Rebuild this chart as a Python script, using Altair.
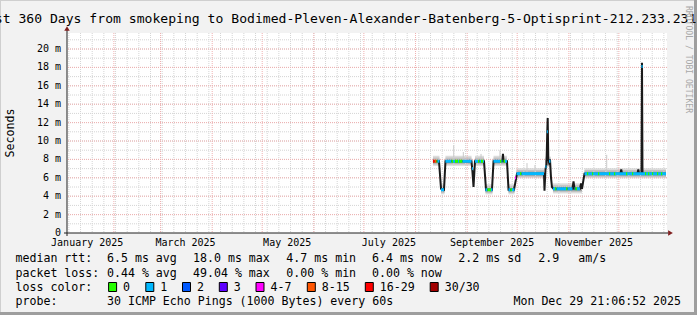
import altair as alt
import pandas as pd

MONO = "DejaVu Sans Mono"
PL, PT, PR, PB = 67, 33, 30, 82
W, H = 600, 200

# ---------------- data ----------------
TITLE = "Last 360 Days from smokeping to Bodimed-Pleven-Alexander-Batenberg-5-Optisprint-212.233.231"
Y_LABEL = "Seconds"
WATERMARK = "RRDTOOL / TOBI OETIKER"

LOSS_LABELS = ["0", "1", "2", "3", "4-7", "8-15", "16-29", "30/30"]
LOSS_COLORS = ["#26ff00", "#00b8ff", "#0059ff", "#5e00ff", "#ff00ff", "#ff5500", "#ff0000", "#a10000"]

RTT_HEAD = "median rtt:"
RTT_ITEMS = ["6.5 ms avg", "18.0 ms max", "4.7 ms min", "6.4 ms now", "2.2 ms sd", "2.9", "am/s"]
LOSS_HEAD = "packet loss:"
LOSS_ITEMS = ["0.44 % avg", "49.04 % max", "0.00 % min", "0.00 % now"]
COLOR_HEAD = "loss color:"
PROBE_HEAD = "probe:"
PROBE_TEXT = "30 ICMP Echo Pings (1000 Bytes) every 60s"
STAMP = "Mon Dec 29 21:06:52 2025"

X_LABEL_TICKS = ["2025-01-16", "2025-03-16", "2025-05-16", "2025-07-16", "2025-09-16", "2025-11-16"]
X_LABEL_TEXT = ["January 2025", "March 2025", "May 2025", "July 2025", "September 2025", "November 2025"]
Y_LABEL_TICKS = [0, 2, 4, 6, 8, 10, 12, 14, 16, 18, 20]
Y_LABEL_TEXT = ["0", "2 m", "4 m", "6 m", "8 m", "10 m", "12 m", "14 m", "16 m", "18 m", "20 m"]

# median (black) path
med_time = ["2025-08-11T11", "2025-08-15T02", "2025-08-16T07", "2025-08-18T02", "2025-08-18T23",
            "2025-09-03T14", "2025-09-04T04", "2025-09-04T19", "2025-09-05T16", "2025-09-11T02",
            "2025-09-12T07", "2025-09-15T21", "2025-09-16T19", "2025-09-22T04", "2025-09-22T11",
            "2025-09-22T19", "2025-09-24T21", "2025-09-25T19", "2025-09-29T02", "2025-09-30T21",
            "2025-10-17T02", "2025-10-17T09", "2025-10-17T23", "2025-10-18T14", "2025-10-19T01",
            "2025-10-19T07", "2025-10-19T16", "2025-10-20T02", "2025-10-20T16", "2025-10-21T07",
            "2025-10-21T21", "2025-10-22T19", "2025-11-03T04", "2025-11-03T19", "2025-11-04T09",
            "2025-11-07T16", "2025-11-08T07", "2025-11-08T21", "2025-11-10T09", "2025-12-01T23",
            "2025-12-02T10", "2025-12-02T21", "2025-12-12T04", "2025-12-12T16", "2025-12-13T02",
            "2025-12-14T14", "2025-12-14T21", "2025-12-15T04", "2025-12-29T07"]
med_ms = [7.8, 7.8, 4.8, 4.7, 7.8,
          7.8, 6.6, 5.0, 7.8, 7.8,
          4.7, 4.7, 7.8, 7.8, 8.6,
          7.8, 7.8, 4.7, 4.7, 6.45,
          6.45, 4.6, 6.9, 7.5, 11.0,
          12.5, 8.0, 7.7, 8.0, 6.0,
          5.0, 4.8, 4.8, 5.6, 4.8,
          4.8, 5.4, 4.8, 6.45, 6.45,
          6.9, 6.45, 6.45, 6.9, 6.45,
          6.45, 18.5, 6.45, 6.45]

# loss-coloured median segments
seg_start = ["2025-08-11T11", "2025-08-12T09", "2025-08-13T14", "2025-08-14T04", "2025-08-16T07",
             "2025-08-18T23", "2025-08-22T14", "2025-08-23T12", "2025-08-24T16", "2025-08-26T12",
             "2025-08-27T02", "2025-08-29T04", "2025-09-03T21", "2025-09-05T16", "2025-09-07T12",
             "2025-09-08T09", "2025-09-09T07", "2025-09-10T12", "2025-09-11T23", "2025-09-13T04",
             "2025-09-15T07", "2025-09-16T19", "2025-09-20T16", "2025-09-21T14", "2025-09-22T19",
             "2025-09-23T16", "2025-09-25T19", "2025-09-26T23", "2025-09-27T21", "2025-09-29T16",
             "2025-09-30T14", "2025-10-02T16", "2025-10-03T14", "2025-10-17T23", "2025-10-18T18",
             "2025-10-20T02", "2025-10-22T11", "2025-10-23T16", "2025-10-24T14", "2025-10-30T07",
             "2025-10-31T04", "2025-11-04T09", "2025-11-04T23", "2025-11-05T21", "2025-11-10T09",
             "2025-11-11T21", "2025-11-14T21", "2025-11-18T12", "2025-11-25T02", "2025-11-28T02",
             "2025-12-05T07", "2025-12-08T21", "2025-12-16T16", "2025-12-18T12", "2025-12-20T21",
             "2025-12-23T21", "2025-12-26T07", "2025-12-14T12"]
seg_end = ["2025-08-12T09", "2025-08-13T14", "2025-08-14T04", "2025-08-15T09", "2025-08-18T02",
           "2025-08-22T14", "2025-08-23T12", "2025-08-24T16", "2025-08-26T12", "2025-08-27T02",
           "2025-08-29T04", "2025-09-03T14", "2025-09-04T12", "2025-09-07T12", "2025-09-08T09",
           "2025-09-09T07", "2025-09-10T12", "2025-09-11T02", "2025-09-13T04", "2025-09-15T07",
           "2025-09-16T04", "2025-09-20T16", "2025-09-21T14", "2025-09-22T04", "2025-09-23T16",
           "2025-09-24T21", "2025-09-26T23", "2025-09-27T21", "2025-09-29T09", "2025-09-30T07",
           "2025-10-02T16", "2025-10-03T14", "2025-10-17T02", "2025-10-18T14", "2025-10-19T09",
           "2025-10-20T23", "2025-10-23T16", "2025-10-24T14", "2025-10-30T07", "2025-10-31T04",
           "2025-11-03T04", "2025-11-04T23", "2025-11-05T21", "2025-11-07T16", "2025-12-29T07",
           "2025-11-12T14", "2025-11-15T14", "2025-11-19T05", "2025-11-25T19", "2025-11-28T19",
           "2025-12-06T00", "2025-12-09T14", "2025-12-17T09", "2025-12-19T05", "2025-12-21T14",
           "2025-12-24T14", "2025-12-27T00", "2025-12-15T06"]
seg_ms = [7.8, 7.8, 7.8, 7.8, 4.7,
          7.8, 7.8, 7.8, 7.8, 7.8,
          7.8, 7.8, 7.0, 7.8, 7.8,
          7.8, 7.8, 7.8, 4.7, 4.7,
          4.7, 7.8, 7.8, 7.8, 7.8,
          7.8, 4.7, 4.7, 4.7, 6.0,
          6.45, 6.45, 6.45, 7.2, 11.0,
          7.8, 4.8, 4.8, 4.8, 4.8,
          4.8, 4.8, 4.8, 4.8, 6.45,
          6.45, 6.45, 6.45, 6.45, 6.45,
          6.45, 6.45, 6.45, 6.45, 6.45,
          6.45, 6.45, 18.1]
seg_loss = [6, 5, 0, 1, 1,
            1, 0, 1, 0, 1,
            0, 1, 1, 1, 0,
            1, 0, 1, 1, 0,
            1, 1, 0, 1, 0,
            1, 1, 0, 1, 4,
            1, 0, 1, 1, 1,
            1, 1, 0, 1, 0,
            1, 1, 0, 1, 1,
            0, 0, 0, 0, 0,
            0, 0, 0, 0, 0,
            0, 0, 1]

# smoke plateaus
smoke_start = ["2025-08-11T11", "2025-08-16T07", "2025-08-18T23", "2025-09-05T16", "2025-09-11T23",
               "2025-09-16T19", "2025-09-25T19", "2025-09-30T14", "2025-10-17T23", "2025-10-22T11",
               "2025-11-10T09"]
smoke_end = ["2025-08-15T09", "2025-08-18T09", "2025-09-03T14", "2025-09-11T02", "2025-09-16T04",
             "2025-09-24T21", "2025-09-29T09", "2025-10-17T02", "2025-10-21T07", "2025-11-08T21",
             "2025-12-29T07"]
smoke_ms = [7.8, 4.7, 7.8, 7.8, 4.7, 7.8, 4.7, 6.45, 7.7, 4.8, 6.45]
smoke_below = [0.5, 0.35, 0.22]   # ms below the median, outer .. inner band
smoke_above = [0.6, 0.4, 0.22]    # ms above the median
smoke_shade = ["#dcdcdc", "#c2c2c2", "#9e9e9e"]

# isolated smoke peaks
peak_time = ["2025-08-23T22", "2025-08-29T16", "2025-09-09T07", "2025-09-20T16",
             "2025-10-06T21", "2025-10-11T16", "2025-11-23T17"]
peak_base = [7.8, 7.8, 7.8, 7.8, 6.45, 6.45, 6.45]
peak_top = [9.55, 8.8, 8.6, 9.0, 7.6, 7.4, 8.5]

# ---------------- helpers ----------------
def iso(s):
    s = str(s)
    if len(s) == 10:
        s += "T00"
    return s + ":00:00Z"

def dt(s, h=0, m=0):
    y, mo, d = [int(v) for v in s.split("-")]
    return alt.DateTime(year=y, month=mo, date=d, hours=h, minutes=m, utc=True)

XS = alt.Scale(type="utc", domain=[dt("2025-01-03", 21, 6), dt("2025-12-29", 21, 6)])
YS = alt.Scale(domain=[0, 21.74], nice=False, zero=False)

def X(f):
    return alt.X(f, type="temporal", scale=XS, axis=None, title=None)

def Y(f):
    return alt.Y(f, type="quantitative", scale=YS, axis=None, title=None)

ONE = alt.Data(values=[{"k": 0}])

def text_at(s, x, y, size=11.6, align="left", color="#000000", angle=0, baseline="alphabetic"):
    return alt.Chart(ONE).mark_text(
        text=s, font=MONO, fontSize=size, align=align, baseline=baseline,
        color=color, angle=angle
    ).encode(x=alt.value(x - PL), y=alt.value(y - PT))

def rule_at(x1, y1, x2, y2, color, width=1):
    return alt.Chart(ONE).mark_rule(color=color, strokeWidth=width).encode(
        x=alt.value(x1 - PL), y=alt.value(y1 - PT), x2=alt.value(x2 - PL), y2=alt.value(y2 - PT))

# ---------------- tables ----------------
week_lines = pd.DataFrame({"t": [d.strftime("%Y-%m-%dT00:00:00Z") for d in
                                 pd.date_range("2025-01-05", "2025-12-28", freq="7D")]})
month_lines = pd.DataFrame({"t": [d.strftime("%Y-%m-%dT00:00:00Z") for d in
                                  pd.date_range("2025-02-01", "2025-12-01", freq="MS")]})
minor_y = pd.DataFrame({"v": list(range(1, 22))})
major_y = pd.DataFrame({"v": Y_LABEL_TICKS[1:]})
xlab = pd.DataFrame({"t": [iso(s) for s in X_LABEL_TICKS], "s": X_LABEL_TEXT})
ylab = pd.DataFrame({"v": Y_LABEL_TICKS, "s": Y_LABEL_TEXT})

med = pd.DataFrame({"t": [iso(s) for s in med_time], "v": med_ms})
seg = pd.DataFrame({"t": [iso(s) for s in seg_start], "t2": [iso(s) for s in seg_end],
                    "v": seg_ms, "loss": seg_loss})
smoke_rows = []
for i in range(len(smoke_ms)):
    for b in range(len(smoke_shade)):
        smoke_rows.append({"t": iso(smoke_start[i]), "t2": iso(smoke_end[i]),
                           "lo": smoke_ms[i] - smoke_below[b], "hi": smoke_ms[i] + smoke_above[b],
                           "band": b})
smoke = pd.DataFrame(smoke_rows)
peaks = pd.DataFrame({"t": [iso(s) for s in peak_time], "lo": peak_base, "hi": peak_top})

MINOR = "#d4d4d4"
MAJOR = "#efb0b0"

# ---------------- layers ----------------
layers = []

# smoke
layers.append(alt.Chart(smoke).mark_rect().encode(
    x=X("t:T"), x2="t2:T", y=Y("lo:Q"), y2="hi:Q",
    fill=alt.Fill("band:O", scale=alt.Scale(domain=[0, 1, 2], range=smoke_shade), legend=None)))
layers.append(alt.Chart(peaks).mark_rule(color="#c8c8c8", strokeWidth=1).encode(
    x=X("t:T"), y=Y("lo:Q"), y2="hi:Q"))

# grid
layers.append(alt.Chart(week_lines).mark_rule(color=MINOR, strokeDash=[1, 1], strokeWidth=1).encode(
    x=X("t:T")))
layers.append(alt.Chart(minor_y).mark_rule(color=MINOR, strokeDash=[1, 1], strokeWidth=1).encode(
    y=Y("v:Q")))
layers.append(alt.Chart(month_lines).mark_rule(color=MAJOR, strokeDash=[1, 1], strokeWidth=1).encode(
    x=X("t:T")))
layers.append(alt.Chart(major_y).mark_rule(color=MAJOR, strokeDash=[1, 1], strokeWidth=1).encode(
    y=Y("v:Q")))

# tick labels, placed through the scales
layers.append(alt.Chart(ylab).mark_text(font=MONO, fontSize=10, align="right", baseline="middle",
                                        color="#000000").encode(
    y=Y("v:Q"), x=alt.value(61 - PL), text="s:N"))
layers.append(alt.Chart(xlab).mark_text(font=MONO, fontSize=10, align="center", baseline="alphabetic",
                                        color="#000000").encode(
    x=X("t:T"), y=alt.value(246 - PT), text="s:N"))

# median
layers.append(alt.Chart(med).mark_line(color="#1a1a1a", strokeWidth=2, strokeJoin="miter").encode(
    x=X("t:T"), y=Y("v:Q")))
layers.append(alt.Chart(seg).mark_rule(strokeWidth=3, strokeCap="butt").encode(
    x=X("t:T"), x2="t2:T", y=Y("v:Q"),
    stroke=alt.Stroke("loss:O", scale=alt.Scale(domain=list(range(8)), range=LOSS_COLORS), legend=None)))

# axis lines and arrows
layers.append(rule_at(64, 233, 668, 233, "#1f1f1f"))
layers.append(rule_at(67, 236, 67, 30, "#1f1f1f"))
layers.append(alt.Chart(ONE).mark_point(shape="triangle-right", filled=True, size=30, color="#801f1f",
                                        opacity=1).encode(x=alt.value(670.5 - PL), y=alt.value(233 - PT)))
layers.append(alt.Chart(ONE).mark_point(shape="triangle-up", filled=True, size=30, color="#801f1f",
                                        opacity=1).encode(x=alt.value(67 - PL), y=alt.value(28.5 - PT)))

# frame shading
layers.append(rule_at(0, 0.5, 697, 0.5, "#cfcfcf", 1))
layers.append(rule_at(0.5, 0, 0.5, 315, "#cfcfcf", 1))
layers.append(rule_at(0, 313.5, 697, 313.5, "#9e9e9e", 3))
layers.append(rule_at(695.5, 0, 695.5, 315, "#9e9e9e", 3))

# texts
layers.append(text_at(TITLE, -21, 22.5, size=13.1))
layers.append(text_at(Y_LABEL, 11, 133, size=11.6, align="center", angle=270, baseline="middle"))
layers.append(text_at(WATERMARK, 687.5, 59.5, size=8.1, align="center", angle=90, baseline="middle",
                      color="#a8a8a8"))

ROW_Y = [262.3, 276.6, 290.7, 305.0]
RTT_X = [107, 193, 286.3, 372, 458.3, 538.3, 578.3]
LOSS_X = [107, 193, 286.3, 372]
BOX_X = [108.6, 145.8, 182.5, 219.3, 256.0, 307.3, 365.3, 430.2]

layers.append(text_at(RTT_HEAD, 15.5, ROW_Y[0]))
for s, x in zip(RTT_ITEMS, RTT_X):
    layers.append(text_at(s, x, ROW_Y[0]))
layers.append(text_at(LOSS_HEAD, 15.5, ROW_Y[1]))
for s, x in zip(LOSS_ITEMS, LOSS_X):
    layers.append(text_at(s, x, ROW_Y[1]))
layers.append(text_at(COLOR_HEAD, 15.5, ROW_Y[2]))
for s, c, x in zip(LOSS_LABELS, LOSS_COLORS, BOX_X):
    layers.append(alt.Chart(ONE).mark_rect(fill=c, stroke="#000000", strokeWidth=1).encode(
        x=alt.value(x - PL), x2=alt.value(x + 8 - PL), y=alt.value(282.5 - PT), y2=alt.value(291.5 - PT)))
    layers.append(text_at(s, x + 14.5, ROW_Y[2]))
layers.append(text_at(PROBE_HEAD, 15.5, ROW_Y[3]))
layers.append(text_at(PROBE_TEXT, 107, ROW_Y[3]))
layers.append(text_at(STAMP, 681, ROW_Y[3], align="right"))

chart = alt.layer(*layers).properties(
    width=W, height=H,
    autosize=alt.AutoSizeParams(type="none"),
    padding={"left": PL, "top": PT, "right": PR, "bottom": PB},
    background="#f2f2f2",
).configure_view(stroke=None, fill="#ffffff")

chart.save("out.html", embed_options={"renderer": "svg", "actions": False})
